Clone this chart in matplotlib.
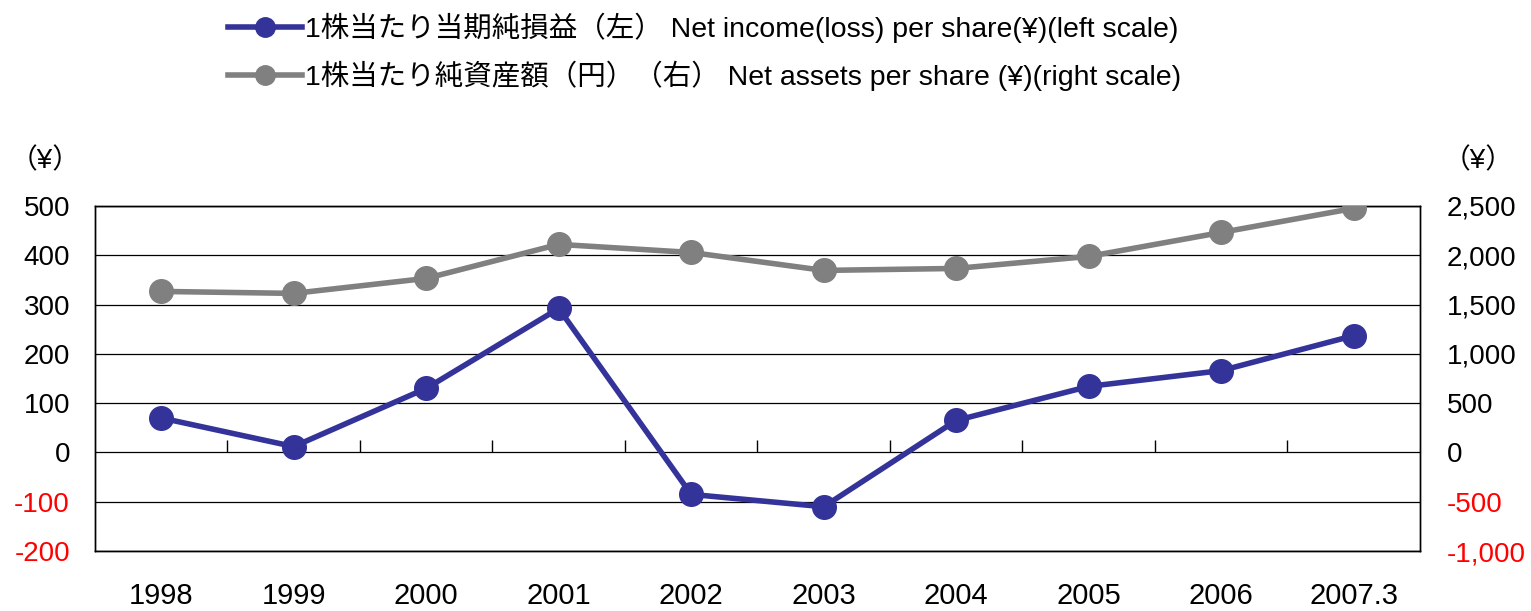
import matplotlib.pyplot as plt
from matplotlib.lines import Line2D

plt.rcParams['font.family'] = ['Liberation Sans', 'Noto Sans CJK JP', 'DejaVu Sans']

years = ['1998', '1999', '2000', '2001', '2002', '2003', '2004', '2005', '2006', '2007.3']
net_income = [70, 12, 130, 292, -85, -110, 65, 134, 166, 237]
net_assets = [1633, 1613, 1765, 2110, 2028, 1846, 1866, 1988, 2231, 2475]
left_ticks = [-200, -100, 0, 100, 200, 300, 400, 500]
right_ticks = [-1000, -500, 0, 500, 1000, 1500, 2000, 2500]

label_income = '1株当たり当期純損益（左） Net income(loss) per share(¥)(left scale)'
label_assets = '1株当たり純資産額（円）（右） Net assets per share (¥)(right scale)'

blue = '#333399'
gray = '#808080'
fs = 20

fig = plt.figure(figsize=(15.31, 6.11), dpi=100)
ax = fig.add_axes([0.062, 0.098, 0.8655, 0.565])
ax2 = ax.twinx()

x = list(range(len(years)))
ax.plot(x, net_income, color=blue, lw=4, marker='o', ms=17, zorder=5)
ax2.plot(x, net_assets, color=gray, lw=4, marker='o', ms=17, zorder=5)

ax.set_xlim(-0.5, len(years) - 0.5)
ax.set_ylim(-200, 500)
ax2.set_ylim(-1000, 2500)

ax.set_yticks(left_ticks)
ax.set_yticklabels([str(v) for v in left_ticks], fontsize=fs)
ax2.set_yticks(right_ticks)
ax2.set_yticklabels([f'{v:,}' for v in right_ticks], fontsize=fs)
for t, v in zip(ax.get_yticklabels(), left_ticks):
    t.set_color('red' if v < 0 else 'black')
for t, v in zip(ax2.get_yticklabels(), right_ticks):
    t.set_color('red' if v < 0 else 'black')
ax.tick_params(axis='y', length=0, pad=18)
ax2.tick_params(axis='y', length=0, pad=19)

ax.set_xticks(x)
ax.set_xticklabels(years, fontsize=21)
ax.tick_params(axis='x', length=0, pad=22)

ax.yaxis.grid(True, color='black', lw=0.9)
ax.set_axisbelow(True)
for a in (ax, ax2):
    for s in a.spines.values():
        s.set_linewidth(1.0)
        s.set_color('black')

# category separator ticks on the zero line
zero_pos = (0 - left_ticks[0]) / (left_ticks[-1] - left_ticks[0])
sec = ax.secondary_xaxis(zero_pos)
sec.set_xticks([i + 0.5 for i in x[:-1]])
sec.set_xticklabels([])
sec.tick_params(axis='x', direction='in', length=9, width=1.0)
sec.spines['bottom'].set_visible(False)

fig.text(0.006, 0.737, '（¥）', fontsize=fs, ha='left', va='center')
fig.text(0.942, 0.737, '（¥）', fontsize=fs, ha='left', va='center')

handles = [
    Line2D([], [], color=blue, lw=4, marker='o', ms=14),
    Line2D([], [], color=gray, lw=4, marker='o', ms=14),
]
fig.legend(handles, [label_income, label_assets], loc='upper left',
           bbox_to_anchor=(0.132, 1.022), frameon=False, fontsize=20.5,
           handlelength=2.6, handletextpad=0.1, labelspacing=0.62,
           numpoints=1)

fig.savefig('out.png', dpi=100)
